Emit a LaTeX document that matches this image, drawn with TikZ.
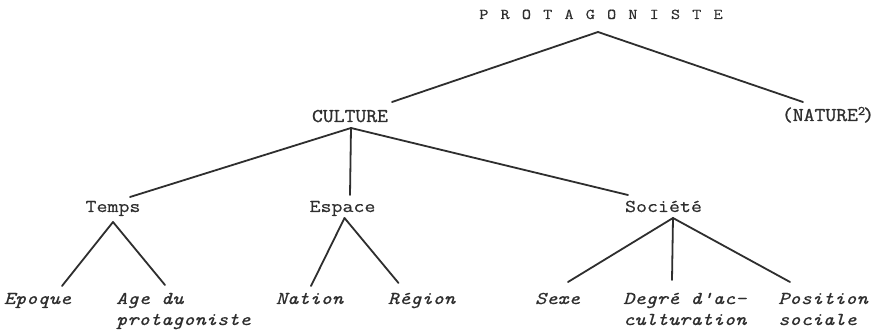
\documentclass[tikz,border=0pt]{standalone}
\usepackage{fontspec}
\newfontfamily\tw[FakeStretch=1.185,FakeBold=0.45]{Latin Modern Mono}
\newfontfamily\twb[FakeStretch=1.08,FakeBold=1.1]{Latin Modern Mono}
\definecolor{ink}{HTML}{2E2E2E}
\newcommand{\lsp}[1]{\makebox[21.3pt]{#1}}
\tikzset{
  lbl/.style={inner sep=0pt, text=ink, font=\tw\fontsize{18}{21}\selectfont},
  hlbl/.style={inner sep=0pt, text=ink, font=\twb\fontsize{19.5}{21}\selectfont},
  ilbl/.style={lbl, font=\tw\itshape\fontsize{18}{21}\selectfont, align=left},
  ttl/.style={inner sep=0pt, text=ink, font=\tw\fontsize{15}{18}\selectfont},
  edge/.style={draw=ink, line width=1.8pt, line cap=round},
}
\begin{document}
\begin{tikzpicture}[x=1pt, y=-1pt]
\useasboundingbox[fill=white] (0,0) rectangle (879,331);
% nodes
\node[ttl, anchor=base] (prot) at (601,19) {\lsp P\lsp R\lsp O\lsp T\lsp A\lsp G\lsp O\lsp N\lsp I\lsp S\lsp T\lsp E};
\node[hlbl, anchor=base] (cult) at (350,122) {CULTURE};
\node[hlbl, anchor=base] (nat) at (828,121) {(NATURE\raisebox{6pt}{\fontsize{13}{13}\selectfont 2}\kern-2pt)};
\node[lbl, anchor=base] (temps) at (113,212) {Temps};
\node[lbl, anchor=base] (espace) at (342.5,212) {Espace};
\node[lbl, anchor=base] (societe) at (663.5,212) {Société};
\node[ilbl, anchor=base] (epoque) at (37.5,304) {Epoque};
\node[ilbl, anchor=base west] (age) at (116,325) {Age du\\protagoniste};
\node[ilbl, anchor=base] (nation) at (309.5,304) {Nation};
\node[ilbl, anchor=base] (region) at (421.5,304) {Région};
\node[ilbl, anchor=base] (sexe) at (557.5,304) {Sexe};
\node[ilbl, anchor=base west] (degre) at (623,325) {Degré d'ac-\\culturation};
\node[ilbl, anchor=base west] (position) at (778,325) {Position\\sociale};
% branching points
\coordinate (protA) at ([shift={(-3,13)}]prot.base);
\coordinate (cultA) at ([shift={(1,6)}]cult.base);
\coordinate (tempsA) at ([shift={(0,10)}]temps.base);
\coordinate (espaceA) at ([shift={(2,6)}]espace.base);
\coordinate (societeA) at ([shift={(9.5,6)}]societe.base);
% connectors
\draw[edge] (protA) -- ([shift={(42,-20)}]cult.base);
\draw[edge] (protA) -- ([shift={(-25,-19)}]nat.base);
\draw[edge] (cultA) -- ([shift={(17,-15)}]temps.base);
\draw[edge] (cultA) -- ([shift={(7.5,-17)}]espace.base);
\draw[edge] (cultA) -- ([shift={(-35.5,-17)}]societe.base);
\draw[edge] (tempsA) -- ([shift={(24.5,-18)}]epoque.base);
\draw[edge] (tempsA) -- ([shift={(49,-40)}]age.base west);
\draw[edge] (espaceA) -- ([shift={(1.5,-18)}]nation.base);
\draw[edge] (espaceA) -- ([shift={(-23,-21)}]region.base);
\draw[edge] (societeA) -- ([shift={(10.5,-22)}]sexe.base);
\draw[edge] (societeA) -- ([shift={(49,-45)}]degre.base west);
\draw[edge] (societeA) -- ([shift={(12,-43)}]position.base west);
\end{tikzpicture}
\end{document}
